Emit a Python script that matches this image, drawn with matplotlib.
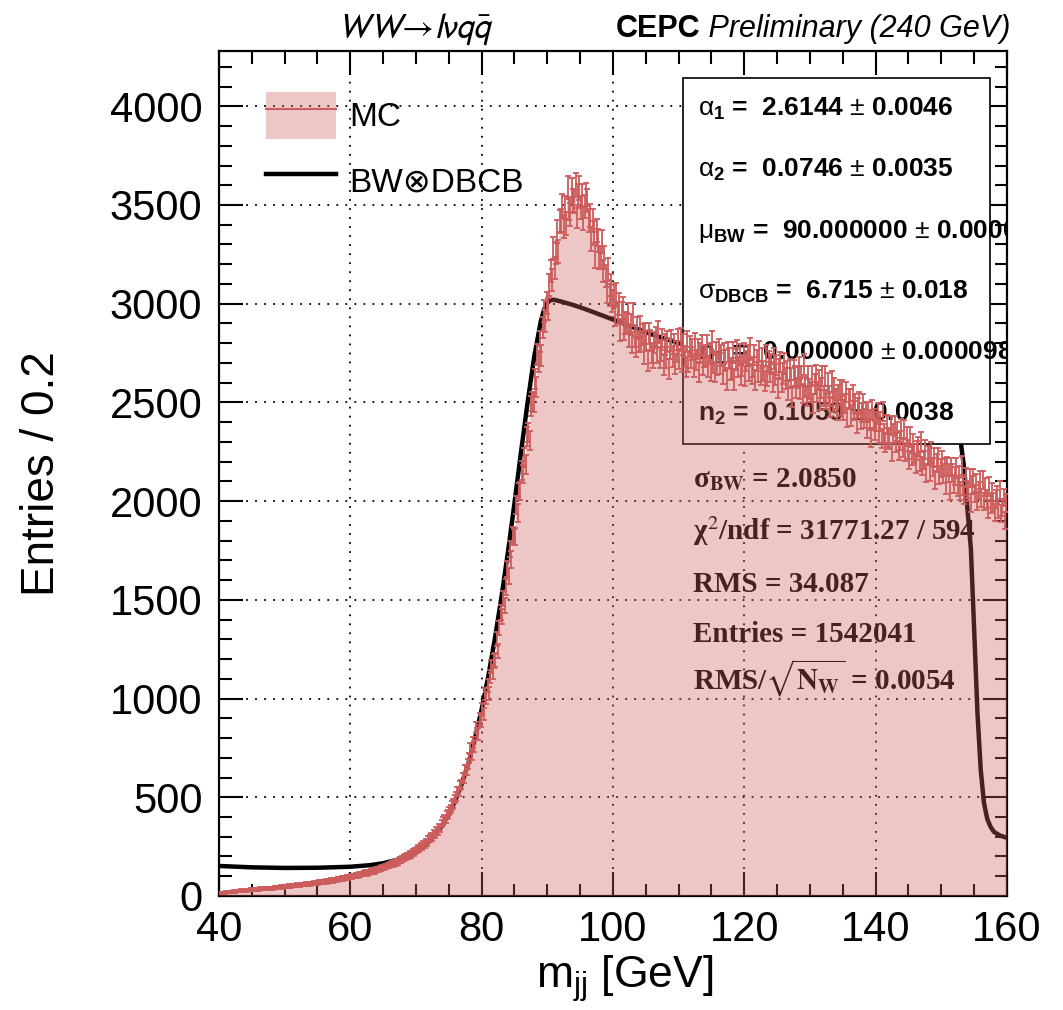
# -*- coding: utf-8 -*-
# m_jj fit plot, CEPC style (ROOT look-alike)

import numpy as np
import matplotlib
matplotlib.use("Agg")
import matplotlib.pyplot as plt
from matplotlib.patches import Patch, Rectangle
from matplotlib.lines import Line2D
from matplotlib.ticker import MultipleLocator

plt.rcParams['font.family'] = ['Liberation Sans', 'DejaVu Sans']
plt.rcParams['mathtext.fontset'] = 'custom'
plt.rcParams['mathtext.rm'] = 'Liberation Sans'
plt.rcParams['mathtext.it'] = 'Liberation Sans:italic'
plt.rcParams['mathtext.bf'] = 'Liberation Sans:bold'

# -----------------------------------------------------------------------------
# DATA  (600 bins of 0.2 GeV, 40-160 GeV, one row = 2 GeV)
# -----------------------------------------------------------------------------
x_lo, x_hi, n_bins = 40, 160, 600

mc_counts = [
    14, 17, 15, 18, 16, 19, 17, 21, 18, 20,
    21, 24, 22, 26, 23, 25, 28, 24, 27, 26,
    29, 27, 31, 30, 33, 29, 32, 35, 31, 34,
    33, 37, 35, 38, 34, 39, 37, 41, 38, 40,
    41, 39, 44, 42, 46, 43, 45, 48, 44, 47,
    46, 50, 48, 52, 49, 51, 55, 50, 53, 56,
    55, 53, 58, 56, 60, 57, 61, 59, 63, 60,
    63, 61, 66, 64, 68, 65, 70, 67, 72, 69,
    73, 76, 71, 78, 75, 80, 77, 83, 79, 82,
    85, 88, 84, 91, 87, 93, 90, 96, 92, 97,
    99, 96, 103, 100, 106, 102, 109, 105, 112, 110,
    115, 119, 113, 122, 118, 126, 121, 130, 125, 133,
    136, 132, 141, 138, 146, 142, 151, 147, 156, 153,
    160, 165, 158, 171, 167, 176, 172, 183, 178, 188,
    192, 198, 194, 205, 201, 213, 208, 221, 216, 229,
    235, 241, 238, 251, 247, 262, 258, 274, 269, 287,
    293, 301, 298, 314, 310, 329, 326, 348, 342, 368,
    379, 392, 387, 408, 414, 431, 442, 459, 468, 491,
    506, 531, 528, 559, 566, 598, 597, 639, 636, 667,
    698, 748, 716, 775, 755, 853, 820, 821, 895, 886,
    945, 922, 1023, 1003, 1065, 1024, 1112, 1163, 1134, 1190,
    1196, 1300, 1240, 1358, 1436, 1415, 1506, 1473, 1564, 1654,
    1623, 1758, 1704, 1825, 1818, 1819, 1979, 1939, 2049, 2050,
    2155, 2138, 2222, 2186, 2329, 2347, 2309, 2483, 2505, 2499,
    2618, 2577, 2743, 2707, 2808, 2736, 2881, 2964, 2913, 3003,
    2972, 3097, 3167, 3121, 3282, 3179, 3258, 3364, 3265, 3416,
    3421, 3497, 3393, 3486, 3408, 3588, 3483, 3450, 3578, 3524,
    3519, 3600, 3441, 3545, 3587, 3487, 3549, 3430, 3493, 3554,
    3523, 3422, 3446, 3324, 3421, 3363, 3239, 3373, 3321, 3235,
    3232, 3316, 3167, 3234, 3141, 3061, 3175, 3043, 3096, 3015,
    3039, 2940, 3048, 2954, 2997, 2867, 2954, 2979, 2870, 2902,
    2899, 2947, 2832, 2896, 2805, 2948, 2832, 2781, 2877, 2808,
    2885, 2808, 2844, 2747, 2849, 2811, 2712, 2848, 2815, 2751,
    2727, 2803, 2829, 2750, 2859, 2728, 2762, 2821, 2693, 2793,
    2726, 2807, 2670, 2771, 2816, 2732, 2796, 2694, 2757, 2819,
    2720, 2824, 2706, 2794, 2731, 2678, 2810, 2708, 2782, 2728,
    2769, 2682, 2797, 2715, 2771, 2653, 2751, 2787, 2690, 2731,
    2736, 2789, 2680, 2749, 2662, 2811, 2700, 2654, 2754, 2690,
    2771, 2697, 2738, 2644, 2748, 2713, 2616, 2756, 2725, 2664,
    2671, 2753, 2616, 2717, 2763, 2679, 2743, 2642, 2687, 2751,
    2633, 2710, 2738, 2661, 2772, 2643, 2679, 2740, 2612, 2713,
    2655, 2758, 2639, 2725, 2660, 2607, 2738, 2635, 2707, 2653,
    2694, 2605, 2723, 2641, 2690, 2572, 2669, 2704, 2605, 2647,
    2696, 2621, 2659, 2564, 2666, 2624, 2527, 2665, 2634, 2575,
    2626, 2677, 2566, 2633, 2545, 2691, 2579, 2531, 2631, 2566,
    2555, 2634, 2495, 2594, 2638, 2552, 2614, 2511, 2573, 2634,
    2534, 2632, 2515, 2596, 2531, 2476, 2606, 2503, 2574, 2519,
    2462, 2537, 2562, 2482, 2561, 2461, 2494, 2552, 2423, 2519,
    2516, 2429, 2538, 2460, 2494, 2392, 2471, 2504, 2414, 2448,
    2492, 2419, 2452, 2366, 2452, 2411, 2324, 2462, 2415, 2358,
    2403, 2450, 2341, 2403, 2317, 2453, 2344, 2296, 2388, 2323,
    2311, 2384, 2249, 2341, 2381, 2297, 2354, 2254, 2306, 2366,
    2270, 2362, 2249, 2325, 2262, 2208, 2327, 2229, 2294, 2240,
    2187, 2255, 2277, 2202, 2301, 2179, 2209, 2261, 2142, 2231,
    2230, 2146, 2253, 2173, 2220, 2107, 2194, 2224, 2131, 2168,
    2209, 2140, 2172, 2084, 2175, 2141, 2051, 2173, 2143, 2085,
    2129, 2173, 2071, 2130, 2050, 2180, 2077, 2032, 2120, 2059,
    2048, 2118, 1992, 2080, 2118, 2039, 2094, 2000, 2054, 2108,
    2016, 2107, 1998, 2073, 2012, 1961, 2077, 1983, 2047, 1995,
    1943, 2010, 2032, 1960, 2057, 1937, 1967, 2019, 1902, 1991,
]

# fitted BW (x) DBCB curve
fit_x = [40, 45, 50, 55, 60, 63, 65, 67, 69, 70, 71, 72, 73, 74, 75, 76, 77,
         78, 79, 80, 81, 82, 83, 84, 85, 86, 87, 88, 89, 89.5, 90, 90.5, 91,
         92, 94, 96, 98, 100, 105, 110, 115, 120, 125, 130, 135, 140, 145,
         150, 152, 153, 153.5, 154, 154.5, 155, 155.5, 156, 156.5, 157,
         157.5, 158, 159, 160]
fit_y = [152, 145, 142, 143, 148, 156, 166, 182, 205, 222, 245, 275, 312,
         358, 415, 485, 570, 675, 800, 945, 1110, 1300, 1510, 1740, 1990,
         2250, 2500, 2730, 2910, 2970, 3005, 3018, 3020, 3012, 2993, 2970,
         2945, 2920, 2855, 2800, 2755, 2710, 2665, 2615, 2560, 2500, 2435,
         2365, 2330, 2290, 2160, 1950, 1760, 1350, 930, 640, 470, 390, 350,
         325, 305, 295]

fit_pars = [
    (r'$\mathrm{\alpha}_{\mathbf{1}}$', '2.6144', '0.0046'),
    (r'$\mathrm{\alpha}_{\mathbf{2}}$', '0.0746', '0.0035'),
    (r'$\mathrm{\mu}_{\mathbf{BW}}$', '90.000000', '0.000040'),
    (r'$\mathrm{\sigma}_{\mathbf{DBCB}}$', '6.715', '0.018'),
    (r'n$_{\mathbf{1}}$', '0.000000', '0.000098'),
    (r'n$_{\mathbf{2}}$', '0.1059', '0.0038'),
]

extra_lines = [
    r'σ$_{\mathbf{BW}}$ = 2.0850',
    r'χ$^{2}$/ndf = 31771.27 / 594',
    'RMS = 34.087',
    'Entries = 1542041',
    r'RMS/$\sqrt{\mathbf{N}_{\mathbf{W}}}$ = 0.0054',
]

# -----------------------------------------------------------------------------
# PLOT
# -----------------------------------------------------------------------------
red = '#cd5c5c'

fig = plt.figure(figsize=(10.63, 10.10), dpi=100)
ax = fig.add_axes([0.206, 0.1129, 0.7413, 0.8366])

edges = np.linspace(x_lo, x_hi, n_bins + 1)
centers = 0.5 * (edges[1:] + edges[:-1])
counts = np.array(mc_counts, dtype=float)

ax.stairs(counts, edges, fill=True, color=red, alpha=0.35, lw=0, zorder=4)
ax.errorbar(centers, counts, yerr=np.sqrt(counts), fmt='none', ecolor=red,
            elinewidth=1.3, capsize=2.5, capthick=1.3, zorder=5)

ax.plot(fit_x, fit_y, color='black', lw=3.2, zorder=1.8)

# stats box (white, drawn over the fit line, under the histogram)
ax.add_patch(Rectangle((0.589, 0.535), 0.389, 0.433, transform=ax.transAxes,
                       facecolor='white', edgecolor='black', lw=1.2, zorder=2))
box_y = [0.923, 0.851, 0.779, 0.707, 0.634, 0.562]
for (name, val, err), yy in zip(fit_pars, box_y):
    ax.text(0.608, yy, name + ' =  ' + val + ' $\\pm$ ' + err, transform=ax.transAxes,
            fontsize=19, fontweight='bold', va='baseline', ha='left',
            zorder=3, clip_on=True)

low_y = [0.484, 0.421, 0.360, 0.301, 0.244]
for txt, yy in zip(extra_lines, low_y):
    ax.text(0.6015, yy, txt, transform=ax.transAxes, fontsize=21,
            fontweight='bold', family='Liberation Serif', math_fontfamily='stix',
            va='baseline', ha='left', zorder=3)

# axes cosmetics
ax.set_xlim(x_lo, x_hi)
ax.set_ylim(0, 4280)
ax.xaxis.set_major_locator(MultipleLocator(20))
ax.xaxis.set_minor_locator(MultipleLocator(5))
ax.yaxis.set_major_locator(MultipleLocator(500))
ax.yaxis.set_minor_locator(MultipleLocator(100))
ax.tick_params(which='both', direction='in', top=True, right=True, width=1.5)
ax.tick_params(which='major', length=17, labelsize=30)
ax.tick_params(axis='y', which='major', pad=12)
ax.tick_params(axis='x', which='major', pad=10)
ax.tick_params(which='minor', length=9)
for s in ax.spines.values():
    s.set_linewidth(1.6)
ax.set_axisbelow(True)
ax.grid(True, which='major', color='black', ls=(0, (1, 4)), lw=1.3)

ax.set_xlabel(r'm$_{\rm jj}$ [GeV]', fontsize=32)
ax.xaxis.set_label_coords(0.515, -0.068)
ax.set_ylabel('Entries / 0.2', fontsize=33)
ax.yaxis.set_label_coords(-0.197, 0.5)

# legend
h_mc = (Patch(facecolor=red, alpha=0.35, lw=0), Line2D([], [], color=red, lw=1.5))
h_fit = Line2D([], [], color='black', lw=3.2)
leg = ax.legend([h_mc, h_fit], ['MC', 'BW⊗DBCB'], loc='upper left',
                bbox_to_anchor=(0.0596, 0.952), frameon=False, fontsize=24,
                handlelength=2.1, handleheight=1.79, labelspacing=0.55,
                handletextpad=0.4, borderpad=0, borderaxespad=0)
leg.set_zorder(6)

# header
fig.text(415 / 1063, 1 - 29 / 1010, r'$WW\!\rightarrow\! l\nu q\bar{q}$',
         math_fontfamily='stixsans', fontsize=25, ha='center', va='center')
t1 = fig.text(700 / 1063, 1 - 29 / 1010, 'CEPC', fontsize=22,
              fontweight='bold', ha='right', va='center')
ax.annotate(' Preliminary (240 GeV)', xy=(1, 0.5), xycoords=t1,
            fontsize=22, fontstyle='italic', ha='left', va='center',
            annotation_clip=False)

fig.savefig('out.png', dpi=100)
